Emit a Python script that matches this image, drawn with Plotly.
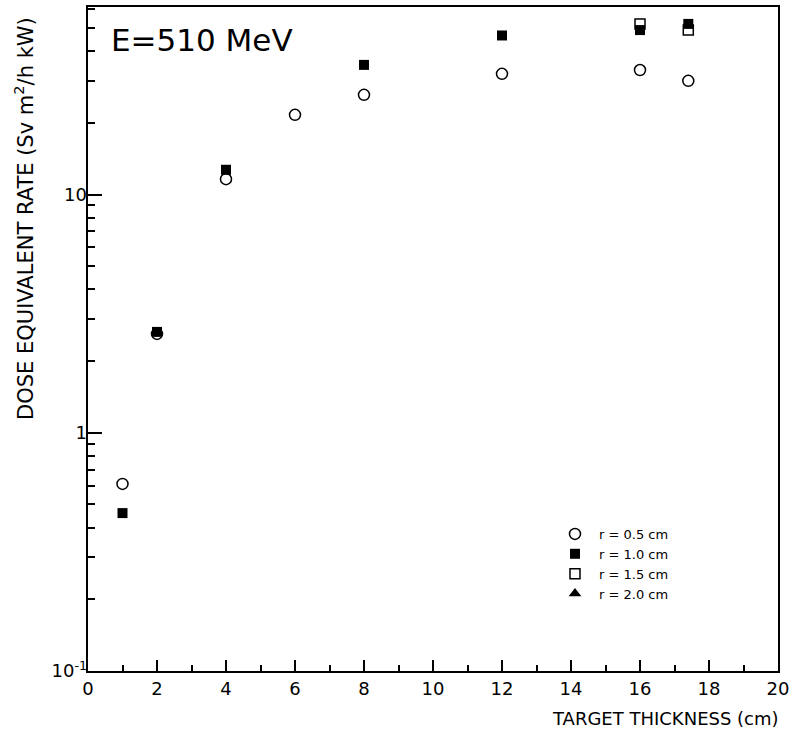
import plotly.graph_objects as go

# Data
x_r05 = [1, 2, 4, 6, 8, 12, 16, 17.4]
y_r05 = [0.61, 2.6, 11.6, 21.6, 26.2, 32.1, 33.3, 30.0]

x_r10 = [1, 2, 4, 8, 12, 16, 17.4]
y_r10 = [0.46, 2.65, 12.7, 35.0, 46.5, 49.0, 52.0]

x_r15 = [16, 17.4]
y_r15 = [52.0, 49.0]

x_r20 = [None]
y_r20 = [None]

x_ticks = list(range(0, 21, 2))
x_minor = list(range(1, 20, 2))
y_major = [0.1, 1, 10]
y_major_text = ["10<sup>-1</sup>", "1", "10"]
y_minor = [m * d for d in (0.1, 1, 10) for m in range(2, 10)]

FONT = "DejaVu Sans, Liberation Sans, sans-serif"
Y_RANGE = [-1, 1.787]

fig = go.Figure()
fig.add_trace(go.Scatter(x=x_r15, y=y_r15, mode="markers", name="r = 1.5 cm",
                         legendrank=3,
                         marker=dict(symbol="square-open", size=10, color="black",
                                     line=dict(width=1.5, color="black"))))
fig.add_trace(go.Scatter(x=x_r20, y=y_r20, mode="markers", name="r = 2.0 cm",
                         legendrank=4, showlegend=True,
                         marker=dict(symbol="triangle-up", size=11, color="black")))
fig.add_trace(go.Scatter(x=x_r10, y=y_r10, mode="markers", name="r = 1.0 cm",
                         legendrank=2,
                         marker=dict(symbol="square", size=10, color="black")))
fig.add_trace(go.Scatter(x=x_r05, y=y_r05, mode="markers", name="r = 0.5 cm",
                         legendrank=1,
                         marker=dict(symbol="circle-open", size=11, color="black",
                                     line=dict(width=1.5, color="black"))))
# helper trace so the overlay axis (decade ticks) is rendered
fig.add_trace(go.Scatter(x=[None], y=[None], yaxis="y2", showlegend=False,
                         hoverinfo="skip", mode="markers"))

fig.update_layout(
    width=800, height=735,
    margin=dict(l=88, r=22, t=5, b=64),
    paper_bgcolor="white", plot_bgcolor="white",
    font=dict(family=FONT, color="black", size=16),
    showlegend=True,
    legend=dict(x=0.671, y=0.229, xanchor="left", yanchor="top",
                bgcolor="rgba(0,0,0,0)", font=dict(size=13, family=FONT),
                traceorder="normal", itemwidth=38, tracegroupgap=0),
    xaxis=dict(range=[0, 20], tickmode="array", tickvals=x_ticks,
               ticks="inside", ticklen=11, tickwidth=2, tickcolor="black",
               minor=dict(tickmode="array", tickvals=x_minor, ticks="inside",
                          ticklen=6, tickwidth=2, tickcolor="black",
                          showgrid=False),
               showline=True, linecolor="black", linewidth=2, mirror=True,
               showgrid=False, zeroline=False,
               tickfont=dict(size=18, family=FONT)),
    yaxis=dict(type="log", range=Y_RANGE, tickmode="array",
               tickvals=y_minor, ticktext=[""] * len(y_minor),
               ticks="inside", ticklen=7, tickwidth=2, tickcolor="black",
               showline=True, linecolor="black", linewidth=2, mirror=True,
               showgrid=False, zeroline=False),
    yaxis2=dict(type="log", range=Y_RANGE, overlaying="y", side="left",
                anchor="x", tickmode="array", tickvals=y_major,
                ticktext=y_major_text, ticks="inside", ticklen=14,
                tickwidth=2, tickcolor="black", showline=False,
                showgrid=False, zeroline=False,
                tickfont=dict(size=18, family=FONT)),
)

fig.add_annotation(text="E=510 MeV", xref="paper", yref="paper",
                   x=0.03, y=0.981, xanchor="left", yanchor="top",
                   showarrow=False, font=dict(size=31, family=FONT))
fig.add_annotation(text="TARGET THICKNESS (cm)", xref="paper", yref="paper",
                   x=1.004, y=-0.053, xanchor="right", yanchor="top",
                   showarrow=False, font=dict(size=18, family=FONT))
fig.add_annotation(text="DOSE EQUIVALENT RATE (Sv m<sup>2</sup>/h kW)",
                   xref="paper", yref="paper", x=-0.092, y=0.988,
                   xanchor="center", yanchor="top", textangle=-90,
                   showarrow=False, font=dict(size=21, family=FONT))

fig.write_html("out.html")
